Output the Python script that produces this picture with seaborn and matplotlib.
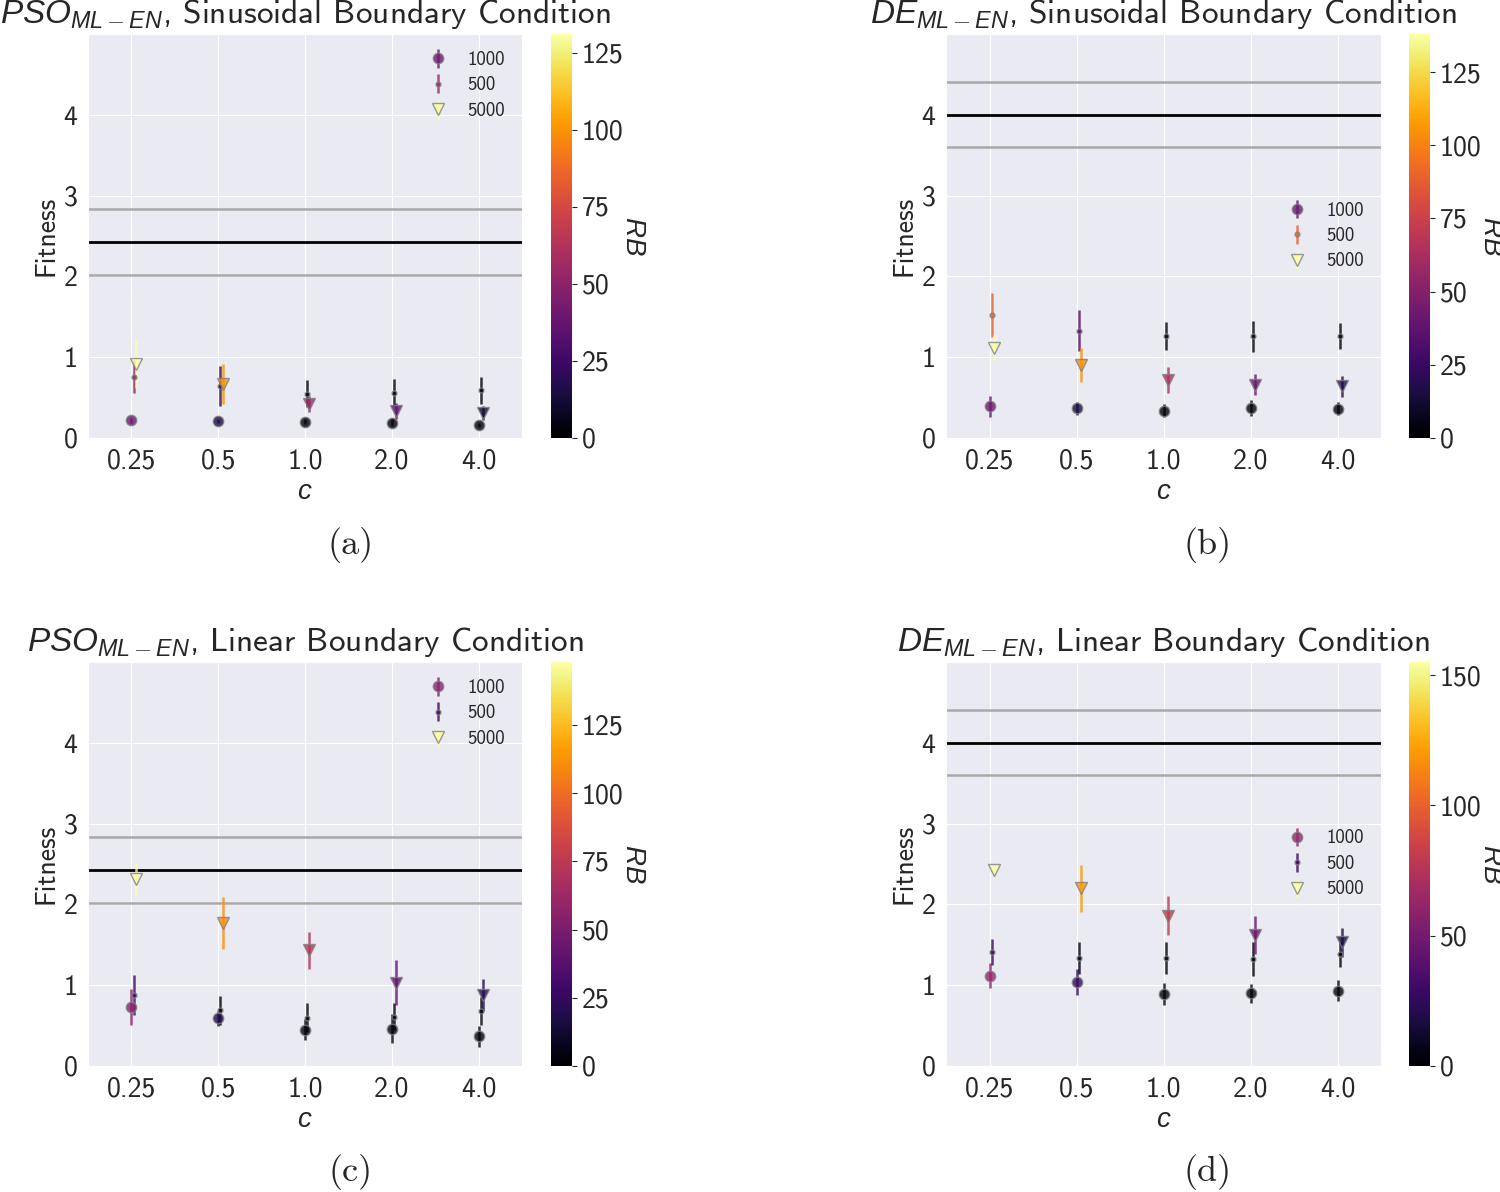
import numpy as np
import matplotlib
matplotlib.use("Agg")
import matplotlib.pyplot as plt
from matplotlib.colors import Normalize
from matplotlib.ticker import MultipleLocator
import seaborn as sns

# x categories and series names
c_labels = ["0.25", "0.5", "1.0", "2.0", "4.0"]
pop_names = ["1000", "500", "5000"]

# (a) PSO, sinusoidal boundary
a_fit_1000 = [0.22, 0.21, 0.20, 0.19, 0.16]
a_err_1000 = [0.03, 0.03, 0.03, 0.04, 0.03]
a_rb_1000 = [40, 15, 3, 3, 2]
a_fit_500 = [0.76, 0.64, 0.55, 0.56, 0.59]
a_err_500 = [0.20, 0.25, 0.17, 0.17, 0.17]
a_rb_500 = [55, 20, 3, 3, 3]
a_fit_5000 = [0.92, 0.67, 0.42, 0.33, 0.31]
a_err_5000 = [0.30, 0.25, 0.10, 0.10, 0.09]
a_rb_5000 = [131, 100, 55, 35, 12]
a_ref = [2.43, 2.84, 2.02]

# (b) DE, sinusoidal boundary
b_fit_1000 = [0.39, 0.37, 0.34, 0.37, 0.36]
b_err_1000 = [0.13, 0.08, 0.08, 0.10, 0.08]
b_rb_1000 = [40, 15, 3, 3, 3]
b_fit_500 = [1.52, 1.33, 1.26, 1.26, 1.26]
b_err_500 = [0.27, 0.25, 0.17, 0.19, 0.16]
b_rb_500 = [90, 35, 3, 3, 3]
b_fit_5000 = [1.12, 0.90, 0.72, 0.66, 0.64]
b_err_5000 = [0.15, 0.21, 0.16, 0.13, 0.13]
b_rb_5000 = [138, 105, 65, 40, 18]
b_ref = [4.0, 4.4, 3.6]

# (c) PSO, linear boundary
c_fit_1000 = [0.73, 0.59, 0.45, 0.46, 0.37]
c_err_1000 = [0.22, 0.09, 0.13, 0.18, 0.13]
c_rb_1000 = [55, 18, 3, 3, 3]
c_fit_500 = [0.88, 0.69, 0.60, 0.61, 0.68]
c_err_500 = [0.25, 0.18, 0.18, 0.17, 0.17]
c_rb_500 = [30, 3, 3, 3, 3]
c_fit_5000 = [2.31, 1.77, 1.43, 1.03, 0.88]
c_err_5000 = [0.20, 0.32, 0.23, 0.28, 0.20]
c_rb_5000 = [148, 112, 72, 40, 20]
c_ref = [2.43, 2.84, 2.02]

# (d) DE, linear boundary
d_fit_1000 = [1.12, 1.04, 0.89, 0.90, 0.93]
d_err_1000 = [0.16, 0.16, 0.14, 0.12, 0.13]
d_rb_1000 = [62, 25, 3, 3, 3]
d_fit_500 = [1.41, 1.34, 1.34, 1.32, 1.38]
d_err_500 = [0.16, 0.20, 0.20, 0.21, 0.15]
d_rb_500 = [28, 4, 3, 3, 3]
d_fit_5000 = [2.42, 2.20, 1.86, 1.62, 1.53]
d_err_5000 = [0.03, 0.29, 0.24, 0.24, 0.18]
d_rb_5000 = [155, 120, 80, 45, 18]
d_ref = [4.0, 4.4, 3.6]

# Style
sns.set_style("darkgrid")
plt.rcParams["font.family"] = ["cmss10", "DejaVu Sans"]
plt.rcParams["axes.unicode_minus"] = False
plt.rcParams["mathtext.fontset"] = "custom"
plt.rcParams["mathtext.rm"] = "cmss10"
plt.rcParams["mathtext.sf"] = "cmss10"
plt.rcParams["mathtext.it"] = "Liberation Sans:italic"

cmap = sns.color_palette("inferno", as_cmap=True)
marker_style = {"1000": ("o", 7.5), "500": ("o", 3.5), "5000": ("v", 8)}
x_shift = {"1000": 0.0, "500": 0.025, "5000": 0.05}

W, H = 1500, 1192
fig = plt.figure(figsize=(W / 100, H / 100), dpi=100)


def box(x0, y0, x1, y1):
    return [x0 / W, 1 - y1 / H, (x1 - x0) / W, (y1 - y0) / H]


panels = [
    (r"$PSO_{ML-EN}$, Sinusoidal Boundary Condition", "(a)", a_ref, "upper right", 25,
     [(a_fit_1000, a_err_1000, a_rb_1000), (a_fit_500, a_err_500, a_rb_500), (a_fit_5000, a_err_5000, a_rb_5000)],
     (88, 34, 522, 438), (551, 34, 572, 438), (351, 545)),
    (r"$DE_{ML-EN}$, Sinusoidal Boundary Condition", "(b)", b_ref, "center right", 25,
     [(b_fit_1000, b_err_1000, b_rb_1000), (b_fit_500, b_err_500, b_rb_500), (b_fit_5000, b_err_5000, b_rb_5000)],
     (946, 34, 1381, 438), (1409, 34, 1430, 438), (1208, 545)),
    (r"$PSO_{ML-EN}$, Linear Boundary Condition", "(c)", c_ref, "upper right", 25,
     [(c_fit_1000, c_err_1000, c_rb_1000), (c_fit_500, c_err_500, c_rb_500), (c_fit_5000, c_err_5000, c_rb_5000)],
     (88, 662, 522, 1066), (551, 662, 572, 1066), (351, 1172)),
    (r"$DE_{ML-EN}$, Linear Boundary Condition", "(d)", d_ref, "center right", 50,
     [(d_fit_1000, d_err_1000, d_rb_1000), (d_fit_500, d_err_500, d_rb_500), (d_fit_5000, d_err_5000, d_rb_5000)],
     (946, 662, 1381, 1066), (1409, 662, 1430, 1066), (1208, 1172)),
]

x = np.arange(len(c_labels))
for title, tag, ref, leg_loc, cb_step, series, ax_px, cb_px, tag_px in panels:
    ax = fig.add_axes(box(*ax_px))
    cax = fig.add_axes(box(*cb_px))
    norm = Normalize(0, max(max(s[2]) for s in series))

    # reference line and band
    ax.axhline(ref[0], color="black", lw=2, zorder=1.5)
    ax.axhline(ref[1], color="darkgray", lw=1.8, zorder=1.5)
    ax.axhline(ref[2], color="darkgray", lw=1.8, zorder=1.5)

    for name, (fit, err, rb) in zip(pop_names, series):
        mk, ms = marker_style[name]
        for i in range(len(x)):
            ax.errorbar(x[i] + x_shift[name], fit[i], yerr=err[i], fmt=mk, ms=ms,
                        color=cmap(norm(rb[i])), mec="gray", mew=1, elinewidth=1.8,
                        alpha=0.8, zorder=3, label=name if i == 0 else None)

    ax.set_xlim(-0.5, 4.5)
    ax.set_ylim(0, 5)
    ax.set_yticks(range(5))
    ax.set_xticks(x)
    ax.set_xticklabels(c_labels)
    ax.tick_params(labelsize=20, pad=4)
    ax.set_xlabel("$c$", fontsize=20, labelpad=4)
    ax.set_ylabel("Fitness", fontsize=20)
    ax.set_title(title, fontsize=24, pad=8)
    ax.legend(loc=leg_loc, fontsize=13.5, frameon=False, labelspacing=0.4,
              handletextpad=0.6)

    sm = plt.cm.ScalarMappable(norm=norm, cmap=cmap)
    cb = fig.colorbar(sm, cax=cax)
    cb.outline.set_visible(False)
    cb.locator = MultipleLocator(cb_step)
    cb.update_ticks()
    cb.ax.tick_params(labelsize=20)
    cb.set_label("$RB$", rotation=270, fontsize=20, labelpad=16)

    fig.text(tag_px[0] / W, 1 - tag_px[1] / H, tag, ha="center", va="center",
             fontsize=26, family="cmr10")

fig.savefig("out.png", dpi=100)
